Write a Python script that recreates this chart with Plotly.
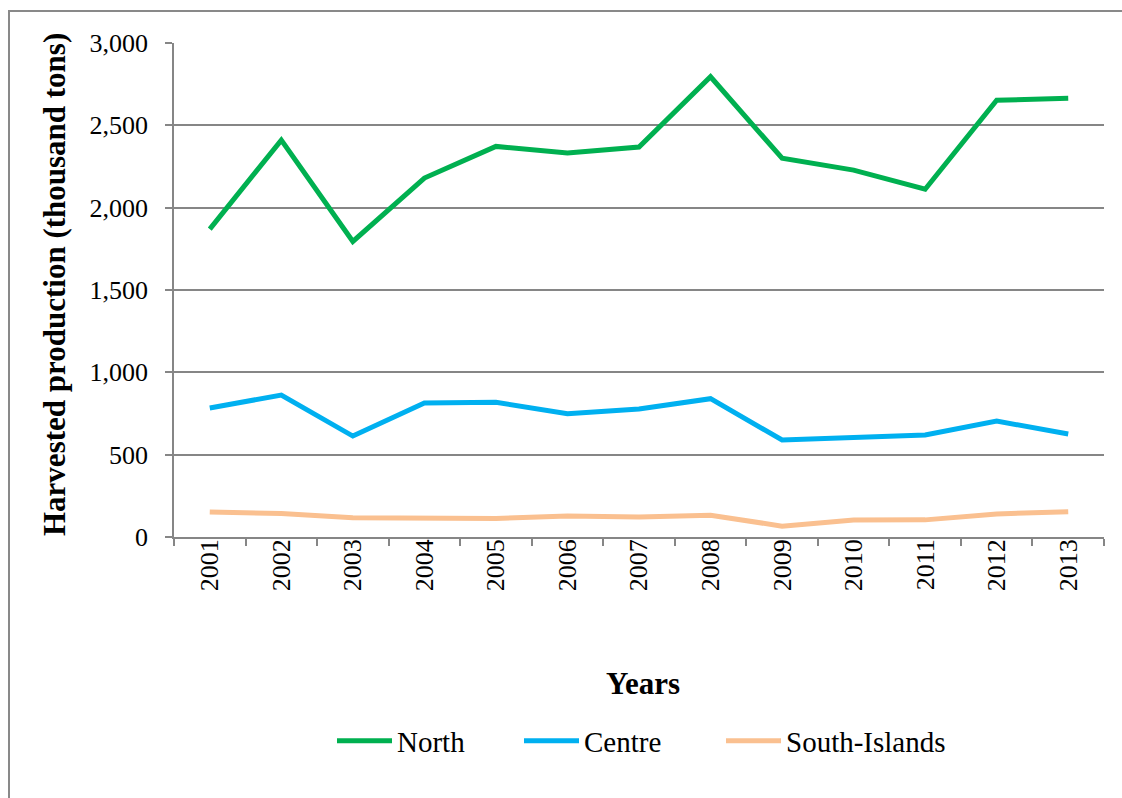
import plotly.graph_objects as go

years = ["2001", "2002", "2003", "2004", "2005", "2006", "2007", "2008", "2009", "2010", "2011", "2012", "2013"]
north = [1870, 2410, 1795, 2180, 2372, 2332, 2368, 2795, 2300, 2228, 2112, 2652, 2664]
centre = [783, 862, 613, 814, 818, 748, 777, 840, 589, 607, 619, 704, 625]
south = [152, 142, 117, 117, 112, 128, 121, 132, 66, 103, 104, 140, 153]

W, H = 1122, 798
L, R, T, B = 174, 18, 43, 261
pw, ph = W - L - R, H - T - B

def px(x):
    return (x - L) / pw

def py(y):
    return (H - B - y) / ph

FONT = "Liberation Serif"

series = [("North", north, "#00B050", "legend", 332),
          ("Centre", centre, "#00B0F0", "legend2", 519),
          ("South-Islands", south, "#FAC090", "legend3", 721)]

fig = go.Figure()
legends = {}
for name, vals, col, leg, lx in series:
    fig.add_trace(go.Scatter(x=years, y=vals, name=name, mode="lines", legend=leg,
                             line=dict(color=col, width=5)))
    legends[leg] = dict(orientation="h", x=px(lx), xanchor="left", y=py(741), yanchor="middle",
                        font=dict(family=FONT, size=29), itemwidth=55,
                        bgcolor="rgba(0,0,0,0)")

fig.update_layout(
    width=W, height=H,
    margin=dict(l=L, r=R, t=T, b=B),
    paper_bgcolor="white", plot_bgcolor="white",
    font=dict(family=FONT, size=26, color="black"),
    showlegend=True,
    xaxis=dict(type="category", range=[-0.5, 12.5], showgrid=False, showline=True,
               linecolor="#868686", linewidth=1.5,
               ticks="outside", ticklen=7, tickcolor="#868686", tickwidth=1.5,
               tickson="boundaries", tickangle=-90, tickfont=dict(family=FONT, size=26),
               ticklabelstandoff=-10),
    yaxis=dict(range=[0, 3000], dtick=500, tickformat=",d", showgrid=True, gridcolor="#868686",
               gridwidth=1.5, showline=True, linecolor="#868686", linewidth=1.5,
               ticks="outside", ticklen=7, tickcolor="#868686", tickwidth=1.5,
               tickfont=dict(family=FONT, size=26), zeroline=False, ticklabelstandoff=12),
    annotations=[
        dict(text="<b>Harvested production (thousand tons)</b>", xref="paper", yref="paper",
             x=px(54), y=py(285), textangle=-90, showarrow=False,
             font=dict(family=FONT, size=31), xanchor="center", yanchor="middle"),
        dict(text="<b>Years</b>", xref="paper", yref="paper", x=px(643), y=py(683),
             showarrow=False, font=dict(family=FONT, size=31), xanchor="center", yanchor="middle"),
    ],
    shapes=[dict(type="rect", xref="paper", yref="paper", x0=px(9), y0=py(810), x1=px(1135), y1=py(11),
                 line=dict(color="#898989", width=2), layer="below")],
)
fig.update_layout(**legends)

fig.write_html("out.html")
